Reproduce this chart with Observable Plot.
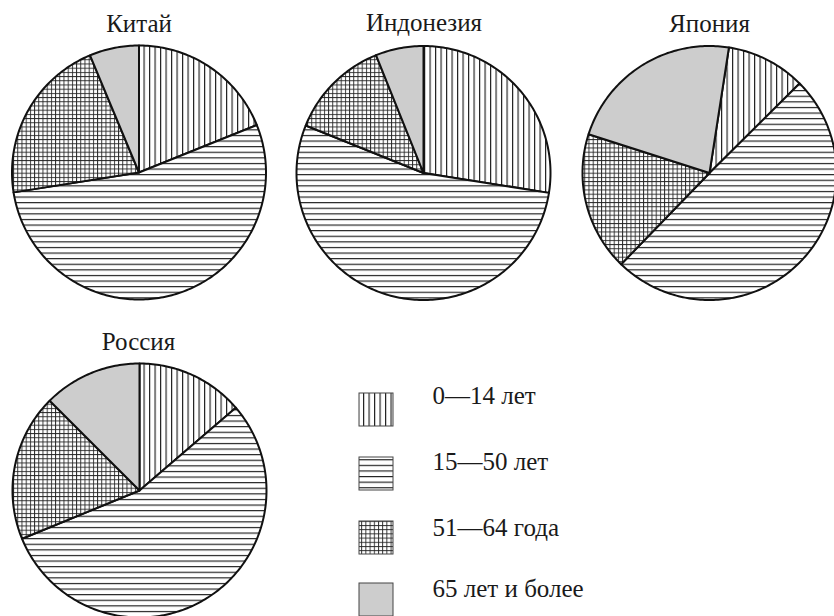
<!DOCTYPE html>
<html><head><meta charset="utf-8">
<script src="https://cdn.jsdelivr.net/npm/d3@7"></script>
<script src="https://cdn.jsdelivr.net/npm/@observablehq/plot@0.6"></script>
<style>html,body{margin:0;padding:0;background:#fff;} #chart svg{display:block;background:#fff}</style>
</head><body>
<svg width="0" height="0" style="position:absolute">
<defs>
<pattern id="pat-vert" patternUnits="userSpaceOnUse" width="5.5" height="10">
 <rect width="5.5" height="10" fill="#fff"/>
 <line x1="0.6" y1="0" x2="0.6" y2="10" stroke="#111" stroke-width="1.1"/>
</pattern>
<pattern id="pat-horiz" patternUnits="userSpaceOnUse" width="10" height="5.6">
 <rect width="10" height="5.6" fill="#fff"/>
 <line x1="0" y1="0.6" x2="10" y2="0.6" stroke="#111" stroke-width="1.1"/>
</pattern>
<pattern id="pat-grid" patternUnits="userSpaceOnUse" width="4.2" height="4.2">
 <rect width="4.2" height="4.2" fill="#fff"/>
 <line x1="0.5" y1="0" x2="0.5" y2="4.2" stroke="#222" stroke-width="0.9"/>
 <line x1="0" y1="0.5" x2="4.2" y2="0.5" stroke="#222" stroke-width="0.9"/>
</pattern>
</defs></svg>
<div id="chart"></div>
<script>
// ---- data ----
const categories = ["0—14 лет", "15—50 лет", "51—64 года", "65 лет и более"];
const countries = ["Китай", "Индонезия", "Япония", "Россия"];
const china = [18.9, 53.6, 21.2, 6.3];
const indonesia = [27.5, 53.6, 12.8, 6.1];
const japan = [10.1, 49.7, 17.7, 22.5];
const russia = [13.7, 55.1, 18.7, 12.5];
const startAngles = [0, 0, 8.8, 0]; // degrees, clockwise from 12 o'clock

// ---- layout / style ----
const series = [china, indonesia, japan, russia];
const centers = [[138.5, 172], [423, 172.5], [709, 172.5], [139, 490]];
const radius = 127;
const titlePos = [[138.5, 31], [423.5, 30], [709, 31], [138, 349]];
const fills = ["url(#pat-vert)", "url(#pat-horiz)", "url(#pat-grid)", "#cdcdcd"];
const font = "Liberation Serif";
const fs = 25;
const legendX = [359, 393];
const legendTop = [393, 457, 521, 583];
const legendH = 33;
const legendTextX = 432;
const legendBase = [403, 469, 535, 596];

// build slice polygons from the values
const slices = [];
series.forEach((vals, c) => {
  const total = d3.sum(vals);
  let acc = startAngles[c] * Math.PI / 180;
  const [cx, cy] = centers[c];
  vals.forEach((v, k) => {
    const a0 = acc, a1 = acc + v / total * 2 * Math.PI;
    acc = a1;
    const id = c + "-" + k;
    slices.push({id, k, x: cx, y: cy});
    const n = Math.max(2, Math.ceil((a1 - a0) / (Math.PI / 180)));
    for (let i = 0; i <= n; i++) {
      const a = a0 + (a1 - a0) * i / n;
      slices.push({id, k, x: cx + radius * Math.sin(a), y: cy - radius * Math.cos(a)});
    }
    slices.push({id, k, x: cx, y: cy});
  });
});

const titles = countries.map((name, i) => ({name, x: titlePos[i][0], y: titlePos[i][1] - 0.32 * fs}));
const legend = categories.map((label, k) => ({
  label, k,
  x1: legendX[0], x2: legendX[1],
  y1: legendTop[k], y2: legendTop[k] + legendH,
  tx: legendTextX, ty: legendBase[k] - 0.32 * fs
}));

const plot = Plot.plot({
  width: 834, height: 616, margin: 0,
  style: {background: "#fff"},
  x: {domain: [0, 834], range: [0, 834], axis: null},
  y: {domain: [0, 616], range: [0, 616], axis: null},
  marks: [
    ...fills.map((f, k) => Plot.line(slices.filter(d => d.k === k), {
      x: "x", y: "y", z: "id", fill: f, stroke: "#111", strokeWidth: 2,
      curve: "linear", strokeLinejoin: "round"
    })),
    Plot.text(titles, {x: "x", y: "y", text: "name", fontFamily: font, fontSize: fs,
      fill: "#1a1a1a", textAnchor: "middle", lineAnchor: "middle"}),
    ...fills.map((f, k) => Plot.rect(legend.filter(d => d.k === k), {
      x1: "x1", x2: "x2", y1: "y1", y2: "y2", fill: f, stroke: "#444", strokeWidth: 1
    })),
    Plot.text(legend, {x: "tx", y: "ty", text: "label", fontFamily: font, fontSize: fs,
      fill: "#1a1a1a", textAnchor: "start", lineAnchor: "middle"})
  ]
});
document.getElementById("chart").appendChild(plot);
</script>
</body></html>
